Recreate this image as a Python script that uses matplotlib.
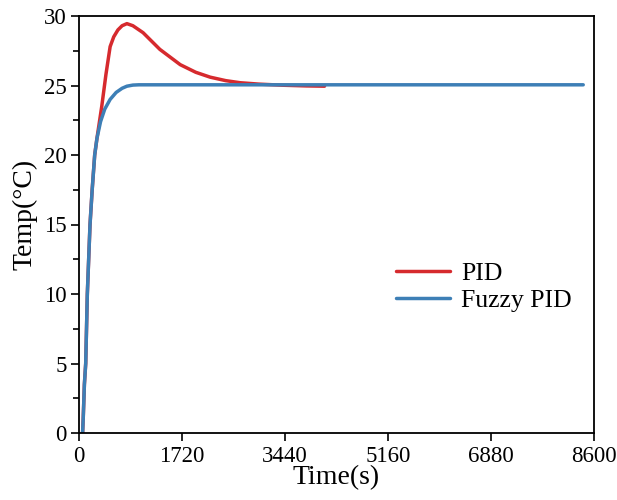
import matplotlib
matplotlib.use("Agg")
import matplotlib.pyplot as plt
from matplotlib.ticker import MultipleLocator

plt.rcParams['font.family'] = ['Liberation Serif', 'DejaVu Serif']

# Data
pid_t = [60, 70, 90, 112, 139, 184, 220, 262, 300, 380, 450, 520, 580, 650, 720, 800,
         900, 1070, 1350, 1690, 1950, 2190, 2450, 2690, 3000, 3400, 3800, 4100]
pid_v = [0, 1, 3.5, 5, 10, 15, 17.5, 20, 21.2, 23.5, 25.8, 27.8, 28.5, 29.0, 29.3, 29.45,
         29.3, 28.8, 27.6, 26.5, 25.95, 25.6, 25.35, 25.2, 25.1, 25.02, 24.97, 24.95]

fuzzy_t = [60, 70, 90, 112, 139, 184, 220, 262, 300, 360, 430, 520, 620, 720, 800, 900,
           1000, 1200, 8420]
fuzzy_v = [0, 1, 3.5, 5, 10, 15, 17.5, 20, 21.2, 22.4, 23.3, 24.0, 24.5, 24.8, 24.95,
           25.03, 25.05, 25.05, 25.05]

xticks = [0, 1720, 3440, 5160, 6880, 8600]
yticks = [0, 5, 10, 15, 20, 25, 30]

fig = plt.figure(figsize=(6.17, 5.0), dpi=100)
ax = fig.add_axes([79/617, 1 - 433/500, (594-79)/617, (433-16)/500])

ax.plot(pid_t, pid_v, color='#d62a2e', lw=2.5, label='PID', solid_capstyle='round')
ax.plot(fuzzy_t, fuzzy_v, color='#3d7fb6', lw=2.5, label='Fuzzy PID', solid_capstyle='round')

ax.set_xlim(0, 8600)
ax.set_ylim(0, 30)
ax.set_xticks(xticks)
ax.set_yticks(yticks)
ax.yaxis.set_minor_locator(MultipleLocator(2.5))
ax.tick_params(axis='both', which='major', direction='out', length=6, width=1.2,
               labelsize=16.5, top=False, right=False, pad=3)
ax.tick_params(axis='y', which='minor', direction='out', length=4, width=1.2)
for s in ax.spines.values():
    s.set_linewidth(1.3)

ax.set_xlabel('Time(s)', fontsize=20, labelpad=-1)
ax.set_ylabel('Temp(°C)', fontsize=20)
ax.yaxis.set_label_coords(-0.08, 0.525)

leg = ax.legend(loc='center left', bbox_to_anchor=(0.615, 0.35), frameon=False,
                fontsize=18.5, handlelength=2.1, handletextpad=0.45, labelspacing=0.15,
                borderpad=0, borderaxespad=0)

fig.savefig('out.png', dpi=100)
